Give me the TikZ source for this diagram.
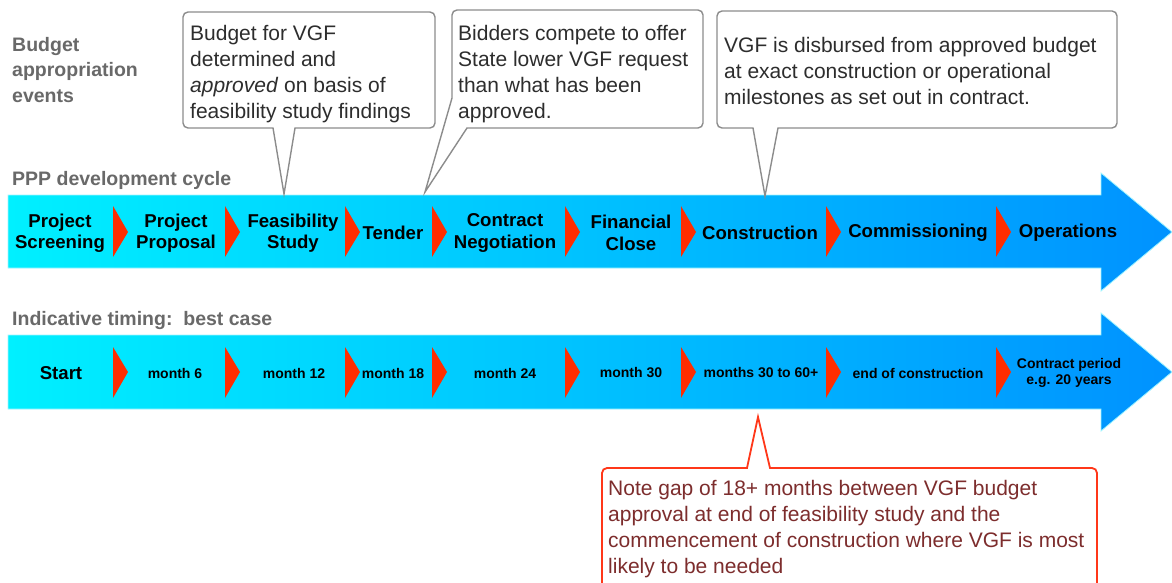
\documentclass[tikz,border=0pt]{standalone}
\usepackage{fontspec}
\setmainfont{Liberation Sans}
\definecolor{flowL}{RGB}{0,240,255}
\definecolor{flowR}{RGB}{0,146,255}
\definecolor{flowEdge}{RGB}{160,245,255}
\definecolor{chevred}{RGB}{255,45,0}
\definecolor{headgray}{RGB}{105,105,105}
\definecolor{calloutgray}{RGB}{140,140,140}
\definecolor{calltextc}{RGB}{45,45,45}
\definecolor{notered}{RGB}{255,55,25}
\definecolor{notetext}{RGB}{125,45,45}
\begin{document}
\begin{tikzpicture}[x=1pt,y=-1pt,
  flow/.style={left color=flowL, right color=flowR, draw=flowEdge, line width=0.8pt},
  chev/.style={fill=chevred},
  stage/.style={font=\fontsize{18.6}{21.5}\selectfont\bfseries, align=center, text=black, inner sep=0},
  tick/.style={font=\fontsize{14}{16}\selectfont\bfseries, align=center, text=black, inner sep=0},
  head/.style={font=\fontsize{19.5}{25.5}\selectfont\bfseries, text=headgray, anchor=north west, align=left, inner sep=0},
  callout/.style={draw=calloutgray, line width=1.4pt, fill=white},
  calltext/.style={font=\fontsize{21}{26}\selectfont, text=calltextc, anchor=north west, align=left, inner sep=0},
  note/.style={draw=notered, line width=1.8pt, fill=white},
  notetxt/.style={font=\fontsize{21}{26}\selectfont, text=notetext, anchor=north west, align=left, inner sep=0}]
\clip (0,0) rectangle (1172,583);
\fill[white] (0,0) rectangle (1172,583);

% section headings
\node[head] (hbudget) at (12,37) {Budget\\appropriation\\events};
\node[head] (hppp) at (12,171) {PPP development cycle};
\node[head] (htiming) at (12,311) {Indicative timing:\ \ best case};

% the two flow arrows
\path[flow] (8,195) -- (1101,195) -- (1101,173) -- (1172,232) -- (1101,291) -- (1101,268) -- (8,268) -- cycle;
\path[flow] (8,335) -- (1101,335) -- (1101,313) -- (1172,372) -- (1101,431) -- (1101,409) -- (8,409) -- cycle;

% chevrons between stages
\foreach \cx in {113,225,345,432,565,681,826,996}{
  \fill[chev] (\cx,206) -- (\cx+15,232) -- (\cx,257) -- cycle;
  \fill[chev] (\cx,347) -- (\cx+15,372) -- (\cx,398) -- cycle;
}

% development stages
\node[stage] (s1) at (60,233) {Project\\Screening};
\node[stage] (s2) at (176,233) {Project\\Proposal};
\node[stage] (s3) at (293,233) {Feasibility\\Study};
\node[stage] (s4) at (393,233) {Tender};
\node[stage] (s5) at (505,233) {Contract\\Negotiation};
\node[stage] (s6) at (631,233) {Financial\\Close};
\node[stage] (s7) at (760,233) {Construction};
\node[stage] (s8) at (918,233) {Commissioning};
\node[stage] (s9) at (1068,233) {Operations};

% timing
\node[stage] (t1) at (61,373) {Start};
\node[tick] (t2) at (175,373) {month 6};
\node[tick] (t3) at (294,373) {month 12};
\node[tick] (t4) at (393,373) {month 18};
\node[tick] (t5) at (505,373) {month 24};
\node[tick] (t6) at (631,373) {month 30};
\node[tick] (t7) at (761,373) {months 30 to 60+};
\node[tick] (t8) at (918,373) {end of construction};
\node[tick] (t9) at (1069,373) {Contract period\\e.g. 20 years};

% callouts
\draw[callout] (284,194) -- (295,128) [rounded corners=5pt] -- (435,128) -- (435,12) -- (183,12) -- (183,128) [sharp corners] -- (273,128) -- cycle;
\node[calltext] (c1) at (190,25) {Budget for VGF\\determined and\\\emph{approved} on basis of\\feasibility study findings};

\draw[callout] (425,192) -- (467,128) [rounded corners=5pt] -- (703,128) -- (703,10) -- (452,10) [sharp corners] -- (452,98) -- cycle;
\node[calltext] (c2) at (458,25) {Bidders compete to offer\\State lower VGF request\\than what has been\\approved.};

\draw[callout] (765,196) -- (778,128) [rounded corners=5pt] -- (1117,128) -- (1117,11) -- (717,11) -- (717,128) [sharp corners] -- (753,128) -- cycle;
\node[calltext] (c3) at (724,37) {VGF is disbursed from approved budget\\at exact construction or operational\\milestones as set out in contract.};

\draw[note] (758,417) -- (770,468) [rounded corners=5pt] -- (1097,468) -- (1097,620) -- (602,620) -- (602,468) [sharp corners] -- (747,468) -- cycle;
\node[notetxt] (n1) at (608,480) {Note gap of 18+ months between VGF budget\\approval at end of feasibility study and the\\commencement of construction where VGF is most\\likely to be needed};
\end{tikzpicture}
\end{document}
